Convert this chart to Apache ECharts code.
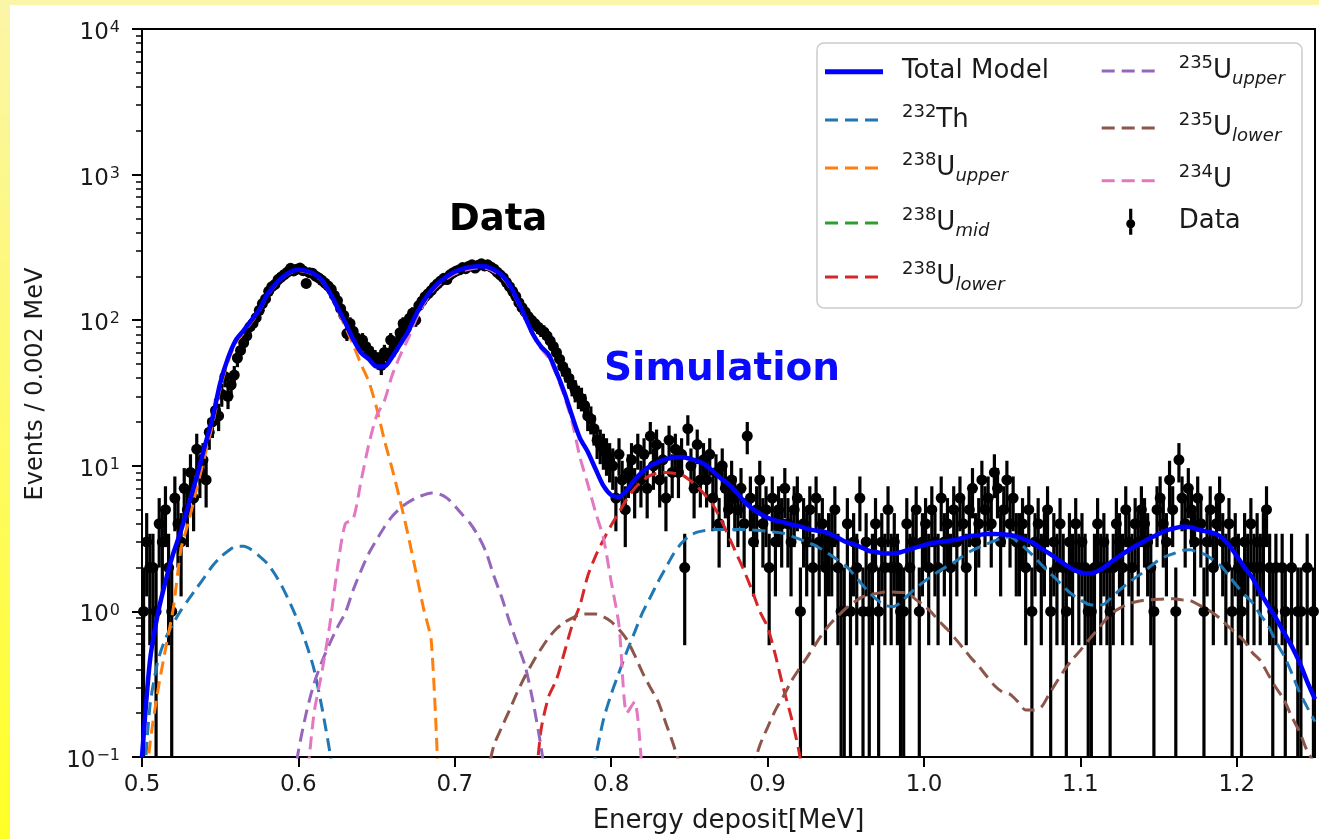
<!DOCTYPE html>
<html>
<head>
<meta charset="utf-8">
<script src="https://cdn.jsdelivr.net/npm/echarts@6/dist/echarts.min.js"></script>
<style>html,body{margin:0;padding:0;overflow:hidden;}#c{width:1319px;height:839px;}</style>
</head>
<body>
<div id="c"></div>
<script>
// ---------------- DATA ----------------
const firstBinCenter = 0.501;   // MeV
const binWidth = 0.002;         // MeV
const dataCounts = [
  1,3,2,2,1,4,3,5,2,1,
  6,4,3,7,5,9,6,13,9,11,
  8,17,20,24,22,31,41,30,36,42,
  55,62,70,78,90,95,104,117,130,140,
  158,170,176,190,198,206,214,227,218,224,
  228,219,179,212,210,201,195,188,180,172,
  163,148,136,120,108,81,95,84,76,70,
  73,66,62,58,55,53,49,60,57,73,
  64,70,82,95,88,103,112,100,126,135,
  145,152,160,170,178,186,194,190,205,212,
  218,222,230,226,235,240,228,238,244,236,
  240,232,225,214,205,196,182,170,158,146,
  132,122,114,106,100,95,90,86,83,78,
  72,66,60,54,48,44,40,36,33,30,
  29,26,22,21,18,15,14,13,12,11,
  10,6,12,8,5,9,11,7,13,8,
  12,7,16,10,14,8,11,6,15,9,
  13,9,12,2,18,10,7,14,8,11,
  8,12,6,9,4,10,7,5,8,6,
  5,7,4,16,6,3,5,8,4,5,
  2,6,3,5,4,7,4,3,5,6,
  1,4,3,5,2,6,3,4,2,3,
  3,5,2,1,1,4,1,3,2,6,
  1,3,1,2,4,1,3,2,5,2,
  3,2,1,1,4,2,3,5,1,3,
  4,2,5,3,2,6,3,4,2,5,
  3,6,4,2,5,7,3,4,8,5,
  6,4,9,7,3,5,8,4,6,3,
  3,4,2,5,1,3,4,2,3,5,
  1,3,2,4,2,1,3,2,4,2,
  3,2,1,1,2,4,2,3,2,1,
  2,4,3,2,5,3,2,4,3,5,
  4,3,2,1,5,6,4,3,8,5,
  1,11,6,4,7,5,3,6,4,1,
  3,5,2,4,6,3,2,4,1,3,
  2,1,3,2,4,2,3,2,3,5,
  2,1,2,0,2,1,0,2,0,1,
  1,0,2,0,1
];

const modelStep = 0.005;
const totalModelStart = 0.500;
const totalModel = [
  0.1,0.45,0.95,1.6,2.5,3.6,5.5,8.4,13.5,21,
  37,55,73,85,100,118,150,175,198,215,
  222,218,208,188,155,122,96,74,60,54,
  48,48,56,68,83,108,135,160,182,200,
  215,225,232,235,234,222,205,175,138,105,
  80,66,58,44,32,22,15.5,12.5,9.5,7.3,
  6.3,6.1,6.8,8.0,9.1,10.0,10.6,11.1,11.4,11.5,
  11.2,10.8,10.2,9.2,8.2,7.5,6.6,5.7,5.1,4.7,
  4.4,4.2,4.1,3.95,3.85,3.7,3.6,3.55,3.4,3.2,
  3.0,2.9,2.75,2.6,2.55,2.5,2.5,2.55,2.65,2.75,
  2.85,2.95,3.0,3.05,3.1,3.2,3.3,3.35,3.4,3.4,
  3.38,3.35,3.25,3.1,2.95,2.7,2.5,2.3,2.1,1.95,
  1.85,1.82,1.87,2.0,2.2,2.4,2.6,2.8,3.0,3.2,
  3.4,3.6,3.72,3.82,3.8,3.65,3.55,3.45,3.25,2.85,
  2.4,2.0,1.7,1.35,1.1,0.9,0.72,0.58,0.45,0.33,
  0.25
];

const th232LowStart = 0.500;
const th232Low = [0.04,0.22,0.45,0.65,0.83,1.02,1.22,1.45,1.72,2.05,2.35,2.6,2.8,2.8,2.65,2.4,2.14,1.8,1.45,1.12,0.84,0.6,0.4,0.22,0.11,0.05];
const th232HighStart = 0.785;
const th232High = [
  0.06,0.1,0.18,0.27,0.38,0.53,0.72,0.98,1.25,1.6,
  2.0,2.5,2.95,3.3,3.5,3.6,3.65,3.65,3.65,3.65,
  3.65,3.62,3.6,3.55,3.5,3.44,3.3,3.15,3.0,2.85,
  2.65,2.45,2.25,2.05,1.8,1.55,1.35,1.2,1.1,1.08,
  1.15,1.3,1.45,1.6,1.75,1.9,2.05,2.2,2.4,2.6,
  2.75,2.9,3.05,3.2,3.25,3.0,2.7,2.4,2.1,1.85,
  1.65,1.45,1.3,1.2,1.12,1.1,1.12,1.25,1.4,1.55,
  1.7,1.85,2.05,2.25,2.4,2.5,2.62,2.65,2.55,2.45,
  2.25,2.05,1.75,1.5,1.3,1.15,0.95,0.8,0.62,0.5,
  0.38,0.28,0.22,0.175
];
const u238UpperStart = 0.500;
const u238Upper = [0.03,0.12,0.28,0.55,1.05,2.7,4.2,7.0,11.5,19,34,52,70,82,97,115,147,172,195,212,219,215,205,185,152,118,90,68,50,38,25,15,9.5,5.8,3.4,1.9,1.05,0.62,0.05];
const u238Mid = [];   // not visible above 0.1 in the figure
const u238LowerStart = 0.750;
const u238Lower = [0.04,0.15,0.26,0.34,0.52,0.8,1.1,1.75,2.4,3.1,3.9,4.8,5.9,7.0,7.9,8.6,8.9,9.0,8.9,8.7,8.0,7.2,6.3,5.4,4.3,3.3,2.5,1.9,1.4,1.0,0.78,0.5,0.3,0.19,0.11,0.05];
const u235UpperStart = 0.595;
const u235Upper = [0.05,0.11,0.2,0.32,0.45,0.6,0.78,0.98,1.4,1.9,2.5,3.1,3.8,4.5,5.1,5.6,6.0,6.3,6.5,6.4,6.0,5.3,4.6,4.0,3.3,2.55,1.75,1.25,0.85,0.6,0.42,0.24,0.12,0.05];
const u235LowerAStart = 0.720;
const u235LowerA = [0.07,0.12,0.16,0.21,0.28,0.36,0.45,0.55,0.66,0.76,0.84,0.9,0.95,0.96,0.96,0.92,0.85,0.75,0.64,0.5,0.38,0.3,0.24,0.17,0.12,0.08];
const u235LowerBStart = 0.890;
const u235LowerB = [
  0.08,0.12,0.16,0.21,0.26,0.33,0.4,0.48,0.58,0.7,
  0.82,0.93,1.05,1.15,1.25,1.3,1.33,1.36,1.36,1.35,
  1.33,1.2,1.1,0.98,0.85,0.75,0.65,0.56,0.48,0.42,
  0.36,0.31,0.28,0.27,0.24,0.21,0.21,0.22,0.27,0.33,
  0.4,0.47,0.54,0.63,0.73,0.85,0.97,1.05,1.12,1.16,
  1.19,1.2,1.21,1.22,1.22,1.2,1.19,1.12,1.05,0.97,
  0.88,0.78,0.7,0.62,0.52,0.46,0.37,0.3,0.25,0.19,
  0.15,0.11,0.09
];
const u234Start = 0.605;
const u234 = [0.06,0.2,0.38,0.8,2.0,4.0,4.3,7.8,14,22,28,42,57,74,100,128,155,176,193,208,218,225,228,227,215,199,170,134,102,78,64,55,42,30,20,11.5,7.5,4.8,3.2,1.6,0.8,0.2,0.24,0.07];

const xTicks = [0.5,0.6,0.7,0.8,0.9,1.0,1.1,1.2];
const yTicks = [0.1,1,10,100,1000,10000];
const yMinorTicks = [0.2,0.3,0.4,0.5,0.6,0.7,0.8,0.9,2,3,4,5,6,7,8,9,20,30,40,50,60,70,80,90,200,300,400,500,600,700,800,900,2000,3000,4000,5000,6000,7000,8000,9000];

// ---------------- BUILD ----------------
const FONT = '"DejaVu Sans", sans-serif';
const TXT = '#1a1a1a';
const pts = dataCounts.map((n, i) => [+(firstBinCenter + i * binWidth).toFixed(4), n]).filter(p => p[1] > 0);
const seg = (start, vals) => vals.map((v, k) => [+(start + k * modelStep).toFixed(4), v]);

const legendLabels = {
  'Total Model': 'Total Model',
  '232Th': '{sup|232}Th',
  '238U_upper': '{sup|238}U{sub|upper}',
  '238U_mid': '{sup|238}U{sub|mid}',
  '238U_lower': '{sup|238}U{sub|lower}',
  '235U_upper': '{sup|235}U{sub|upper}',
  '235U_lower': '{sup|235}U{sub|lower}',
  '234U': '{sup|234}U',
  'Data': 'Data'
};
const ICON_SOLID = 'path://M0,0L58,0L58,5L0,5Z';
const ICON_DASH = 'path://M0,0L13,0L13,3L0,3Z M20,0L33,0L33,3L20,3Z M40,0L53,0L53,3L40,3Z M58,0L58,3Z';
const ICON_DATA = 'path://M0,13L0.01,13L0,13.01Z M57.99,13L58,13L58,13.01Z M27.4,0L30.6,0L30.6,10.6L27.4,10.6Z M27.4,19.4L30.6,19.4L30.6,26L27.4,26Z M24.5,15A4.5,4.5,0,1,1,33.5,15A4.5,4.5,0,1,1,24.5,15Z';
// legend layout: [series name, icon, left, centre y]
const legendItems = [
  ['Total Model', ICON_SOLID, 825, 71.7],
  ['232Th', ICON_DASH, 825, 120],
  ['238U_upper', ICON_DASH, 825, 168],
  ['238U_mid', ICON_DASH, 825, 223],
  ['238U_lower', ICON_DASH, 825, 277],
  ['235U_upper', ICON_DASH, 1101.7, 71],
  ['235U_lower', ICON_DASH, 1101.7, 128],
  ['234U', ICON_DASH, 1101.7, 180.7],
  ['Data', ICON_DATA, 1101.7, 221.7]
];
const legendText = {
  fontSize: 26, fontFamily: FONT, color: TXT, lineHeight: 34, padding: [0, 0, 0, 14],
  rich: {
    sup: { fontSize: 18, fontFamily: FONT, color: TXT, lineHeight: 22, verticalAlign: 'top' },
    sub: { fontSize: 18, fontFamily: FONT, color: TXT, fontStyle: 'italic', lineHeight: 27, verticalAlign: 'bottom' }
  }
};
const legends = legendItems.map(([name, icon, left, cy]) => ({
  data: [{ name, icon }], orient: 'vertical', left, top: cy - 17, padding: 0,
  itemWidth: 58, itemHeight: 26, z: 6, formatter: n => legendLabels[n], textStyle: legendText
}));

const DASH = [13, 7];
function dashed(name, color, data) {
  return { type: 'line', name, data, showSymbol: false, symbol: 'none', smooth: 0.25, z: 3, silent: true,
    lineStyle: { color, width: 3, type: DASH }, itemStyle: { color } };
}

const chart = echarts.init(document.getElementById('c'), null, { renderer: 'canvas' });
chart.setOption({
  animation: false,
  backgroundColor: {
    type: 'linear', x: 0, y: 0, x2: 0, y2: 1,
    colorStops: [{ offset: 0, color: '#fbf5a8' }, { offset: 1, color: '#ffff26' }]
  },
  graphic: [
    { type: 'rect', z: -10, shape: { x: 10, y: 5, width: 1309, height: 834 }, style: { fill: '#ffffff' }, silent: true },
    { type: 'rect', z: 5, shape: { x: 817, y: 43, width: 485, height: 265, r: 7 },
      style: { fill: 'rgba(255,255,255,0.8)', stroke: '#cccccc', lineWidth: 1.5 }, silent: true },
    { type: 'text', z: 10, style: { x: 449, y: 220, text: 'Data', verticalAlign: 'middle',
        font: 'bold 37px "DejaVu Sans"', fill: '#000000',
        shadowColor: 'rgba(0,0,0,0.45)', shadowBlur: 4, shadowOffsetX: 2, shadowOffsetY: 3 } },
    { type: 'text', z: 10, style: { x: 604, y: 370, text: 'Simulation', verticalAlign: 'middle',
        font: 'bold 39px "DejaVu Sans"', fill: '#0a0aff',
        shadowColor: 'rgba(0,0,0,0.45)', shadowBlur: 4, shadowOffsetX: 2, shadowOffsetY: 3 } }
  ],
  grid: { left: 142, top: 29, width: 1173, height: 728, show: true, borderColor: '#000', borderWidth: 2,
    backgroundColor: 'transparent', containLabel: false, outerBoundsMode: 'none' },
  legend: legends,
  xAxis: {
    type: 'value', min: 0.5, max: 1.25,
    name: 'Energy deposit[MeV]', nameLocation: 'middle', nameGap: 51,
    nameTextStyle: { fontSize: 26, fontFamily: FONT, color: TXT },
    axisLine: { show: true, lineStyle: { color: '#000', width: 2 } },
    axisTick: { show: true, inside: false, length: 10, lineStyle: { color: '#000', width: 2 }, customValues: xTicks },
    axisLabel: { fontSize: 23, fontFamily: FONT, color: TXT, margin: 17, customValues: xTicks,
      formatter: v => v.toFixed(1) },
    splitLine: { show: false }
  },
  yAxis: [
    { type: 'log', logBase: 10, min: 0.1, max: 10000,
      name: 'Events / 0.002 MeV', nameLocation: 'middle', nameGap: 94,
      nameTextStyle: { fontSize: 24, fontFamily: FONT, color: TXT, padding: [0, 0, 0, 18] },
      axisLine: { show: true, lineStyle: { color: '#000', width: 2 } },
      axisTick: { show: true, inside: false, length: 10, lineStyle: { color: '#000', width: 2 }, customValues: yTicks },
      axisLabel: { margin: 22, customValues: yTicks,
        formatter: v => { const e = Math.round(Math.log10(v)); return '{m|10}{s|' + (e < 0 ? '\u2212' + (-e) : e) + '}'; },
        rich: {
          m: { fontSize: 23, fontFamily: FONT, color: TXT, lineHeight: 28, padding: [8, 0, 0, 0] },
          s: { fontSize: 16, fontFamily: FONT, color: TXT, lineHeight: 16, padding: [9, 0, 11, 1] }
        } },
      splitLine: { show: false } },
    { type: 'log', logBase: 10, min: 0.1, max: 10000, position: 'left',
      axisLine: { show: false }, axisLabel: { show: false }, splitLine: { show: false },
      axisTick: { show: true, inside: false, length: 6, lineStyle: { color: '#000', width: 1.5 }, customValues: yMinorTicks } }
  ],
  series: [
    { type: 'scatter', name: 'Data', data: pts, symbol: 'circle', symbolSize: 11, z: 2, silent: true,
      itemStyle: { color: '#000', opacity: 1 } },
    { type: 'custom', name: 'Data', data: pts, clip: true, z: 2, silent: true, itemStyle: { color: '#000' },
      encode: { x: 0, y: 1 },
      renderItem: (params, api) => {
        const e = api.value(0), n = api.value(1);
        if (!(n > 0)) return null;
        const err = Math.sqrt(n);
        const lo = n - err > 1e-6 ? n - err : 1e-4;
        const a = api.coord([e, n + err]), b = api.coord([e, lo]);
        return { type: 'line', shape: { x1: a[0], y1: a[1], x2: b[0], y2: b[1] },
          style: { stroke: '#000', lineWidth: 3.2 } };
      } },
    dashed('232Th', '#1f77b4', seg(th232LowStart, th232Low)),
    dashed('232Th', '#1f77b4', seg(th232HighStart, th232High)),
    dashed('238U_upper', '#ff7f0e', seg(u238UpperStart, u238Upper)),
    dashed('238U_mid', '#2ca02c', u238Mid),
    dashed('238U_lower', '#d62728', seg(u238LowerStart, u238Lower)),
    dashed('235U_upper', '#9467bd', seg(u235UpperStart, u235Upper)),
    dashed('235U_lower', '#8c564b', seg(u235LowerAStart, u235LowerA)),
    dashed('235U_lower', '#8c564b', seg(u235LowerBStart, u235LowerB)),
    dashed('234U', '#e377c2', seg(u234Start, u234)),
    { type: 'line', name: 'Total Model', data: seg(totalModelStart, totalModel), showSymbol: false, symbol: 'none',
      smooth: 0.25, z: 4, silent: true, lineStyle: { color: '#0000ff', width: 4.5 }, itemStyle: { color: '#0000ff' } }
  ]
});
</script>
</body>
</html>
